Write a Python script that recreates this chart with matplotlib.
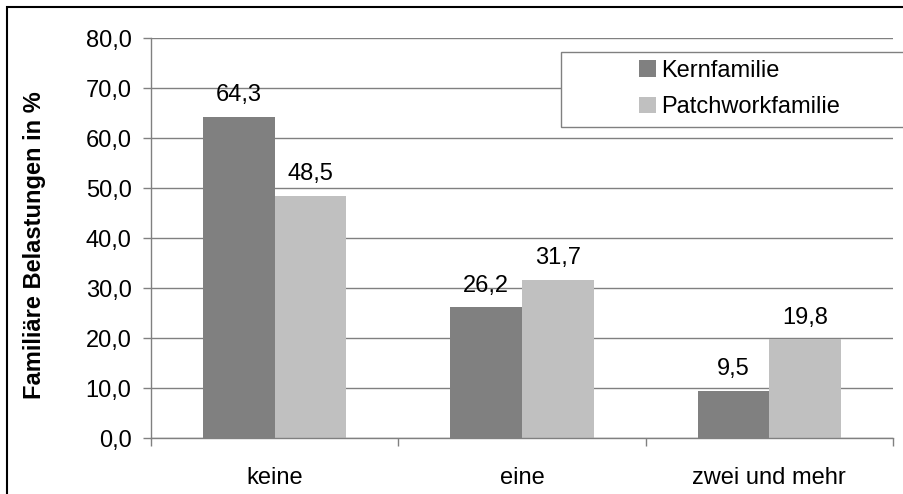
import numpy as np
import matplotlib
matplotlib.use('Agg')
import matplotlib.pyplot as plt
from matplotlib.patches import Rectangle

plt.rcParams['font.family'] = ['Liberation Sans', 'DejaVu Sans']

# data
categories = ['keine', 'eine', 'zwei und mehr']
kernfamilie = [64.3, 26.2, 9.5]
patchwork = [48.5, 31.7, 19.8]
series_names = ['Kernfamilie', 'Patchworkfamilie']
y_ticks = [0, 10, 20, 30, 40, 50, 60, 70, 80]

W, H = 904, 494
fs = 17
fig = plt.figure(figsize=(W / 100, H / 100), dpi=100)
ax = fig.add_axes([151 / W, 1 - 438 / H, (893 - 151) / W, 400 / H])

x = np.arange(len(categories))
w = 0.29
dark = '#808080'
light = '#c0c0c0'
gray = '#808080'

b1 = ax.bar(x - w / 2, kernfamilie, w, color=dark, label=series_names[0], zorder=2)
b2 = ax.bar(x + w / 2, patchwork, w, color=light, label=series_names[1], zorder=2)

# value labels with German decimal comma
for bars, vals in [(b1, kernfamilie), (b2, patchwork)]:
    for bar, v in zip(bars, vals):
        ax.annotate(f'{v:.1f}'.replace('.', ','),
                    (bar.get_x() + bar.get_width() / 2, v),
                    xytext=(0, 11), textcoords='offset points',
                    ha='center', va='baseline', fontsize=fs)

ax.set_ylim(0, 80)
ax.set_xlim(-0.5, len(categories) - 0.5)
ax.set_yticks(y_ticks)
ax.set_yticklabels([f'{t:.1f}'.replace('.', ',') for t in y_ticks], fontsize=fs)
ax.yaxis.grid(True, color=gray, linewidth=1)
ax.set_axisbelow(True)

# tick marks between categories, labels centred under the groups
ax.set_xticks(np.arange(len(categories) + 1) - 0.5)
ax.set_xticklabels([])
ax.set_xticks(x, minor=True)
ax.set_xticklabels(categories, minor=True, fontsize=fs)
ax.tick_params(axis='x', which='major', length=6, color=gray, width=1)
ax.tick_params(axis='x', which='minor', length=0, pad=21)
ax.tick_params(axis='y', length=6, color=gray, width=1, pad=8)

for s in ['top', 'right']:
    ax.spines[s].set_visible(False)
for s in ['left', 'bottom']:
    ax.spines[s].set_color(gray)
    ax.spines[s].set_linewidth(1)

ax.set_ylabel('Familiäre Belastungen in %', fontsize=17, fontweight='bold')
ax.yaxis.set_label_coords((46 - 151) / 742, (438 - 245) / 400)

# legend box (reaches past the right edge like the original)
ax.add_patch(Rectangle((561 / W, 1 - 127 / H), 0.5, 75 / H,
                       transform=fig.transFigure, facecolor='white',
                       edgecolor=gray, linewidth=1, clip_on=False, zorder=4))
ax.legend(loc='upper left', bbox_to_anchor=(639 / W, 1 - 60 / H),
          bbox_transform=fig.transFigure, frameon=False, fontsize=fs,
          borderpad=0, borderaxespad=0, handlelength=0.7, handleheight=0.7,
          handletextpad=0.25, labelspacing=0.6)

# outer border of the figure
fig.add_artist(Rectangle((7 / W, -0.1), 1.2, (H - 7) / H + 0.1,
                         transform=fig.transFigure, facecolor='none',
                         edgecolor='black', linewidth=1.5))

fig.savefig('out.png', dpi=100)
